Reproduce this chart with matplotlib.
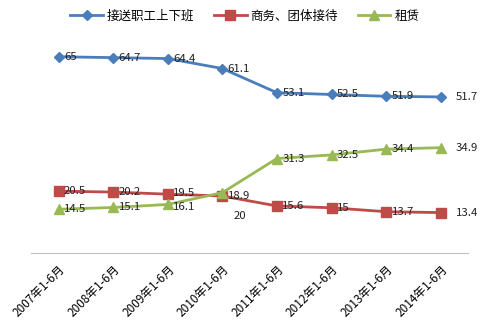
import matplotlib
matplotlib.use("Agg")
import matplotlib.pyplot as plt

plt.rcParams['font.family'] = ['Noto Sans CJK SC', 'DejaVu Sans']

categories = ["2007年1-6月", "2008年1-6月", "2009年1-6月", "2010年1-6月",
              "2011年1-6月", "2012年1-6月", "2013年1-6月", "2014年1-6月"]
commute = [65, 64.7, 64.4, 61.1, 53.1, 52.5, 51.9, 51.7]
business = [20.5, 20.2, 19.5, 18.9, 15.6, 15, 13.7, 13.4]
rental = [14.5, 15.1, 16.1, 20, 31.3, 32.5, 34.4, 34.9]
series_names = ["接送职工上下班", "商务、团体接待", "租赁"]

fig = plt.figure(figsize=(4.8, 3.33), dpi=100)
ax = fig.add_axes([0.065, 0.24, 0.91, 0.635])
x = list(range(len(categories)))

styles = [("#4a7ebb", "D", 5), ("#be4b48", "s", 6.5), ("#98b954", "^", 6.5)]
for vals, name, (c, m, ms) in zip([commute, business, rental], series_names, styles):
    ax.plot(x, vals, color=c, marker=m, markersize=ms, linewidth=2, label=name)
    for i, v in enumerate(vals):
        dx = 11 if i == len(vals) - 1 else 4
        dy = 0
        if name == "租赁" and i == 3:
            dx, dy = 8, -17
        if name == "租赁" and i == 2:
            dy = -2
        if name == "商务、团体接待" and i == 2:
            dy = 1
        ax.annotate(f"{v:g}", (i, v), xytext=(dx, dy), textcoords="offset points",
                    ha="left", va="center", fontsize=8.2, color="#222222")

ax.set_xlim(-0.5, 7.5)
ax.set_ylim(0, 70)
ax.set_xticks(x)
ax.set_xticklabels(categories, rotation=45, ha="right", rotation_mode="anchor", fontsize=8.5)
ax.tick_params(axis="x", length=0, pad=7)
ax.set_yticks([])
for s in ["top", "right", "left"]:
    ax.spines[s].set_visible(False)
ax.spines["bottom"].set_color("#bfbfbf")

fig.legend(loc="upper center", bbox_to_anchor=(0.51, 1.005), ncol=3, frameon=False,
           fontsize=9, handlelength=2.6, columnspacing=1.6, handletextpad=0.3)

fig.savefig("out.png", dpi=100)
